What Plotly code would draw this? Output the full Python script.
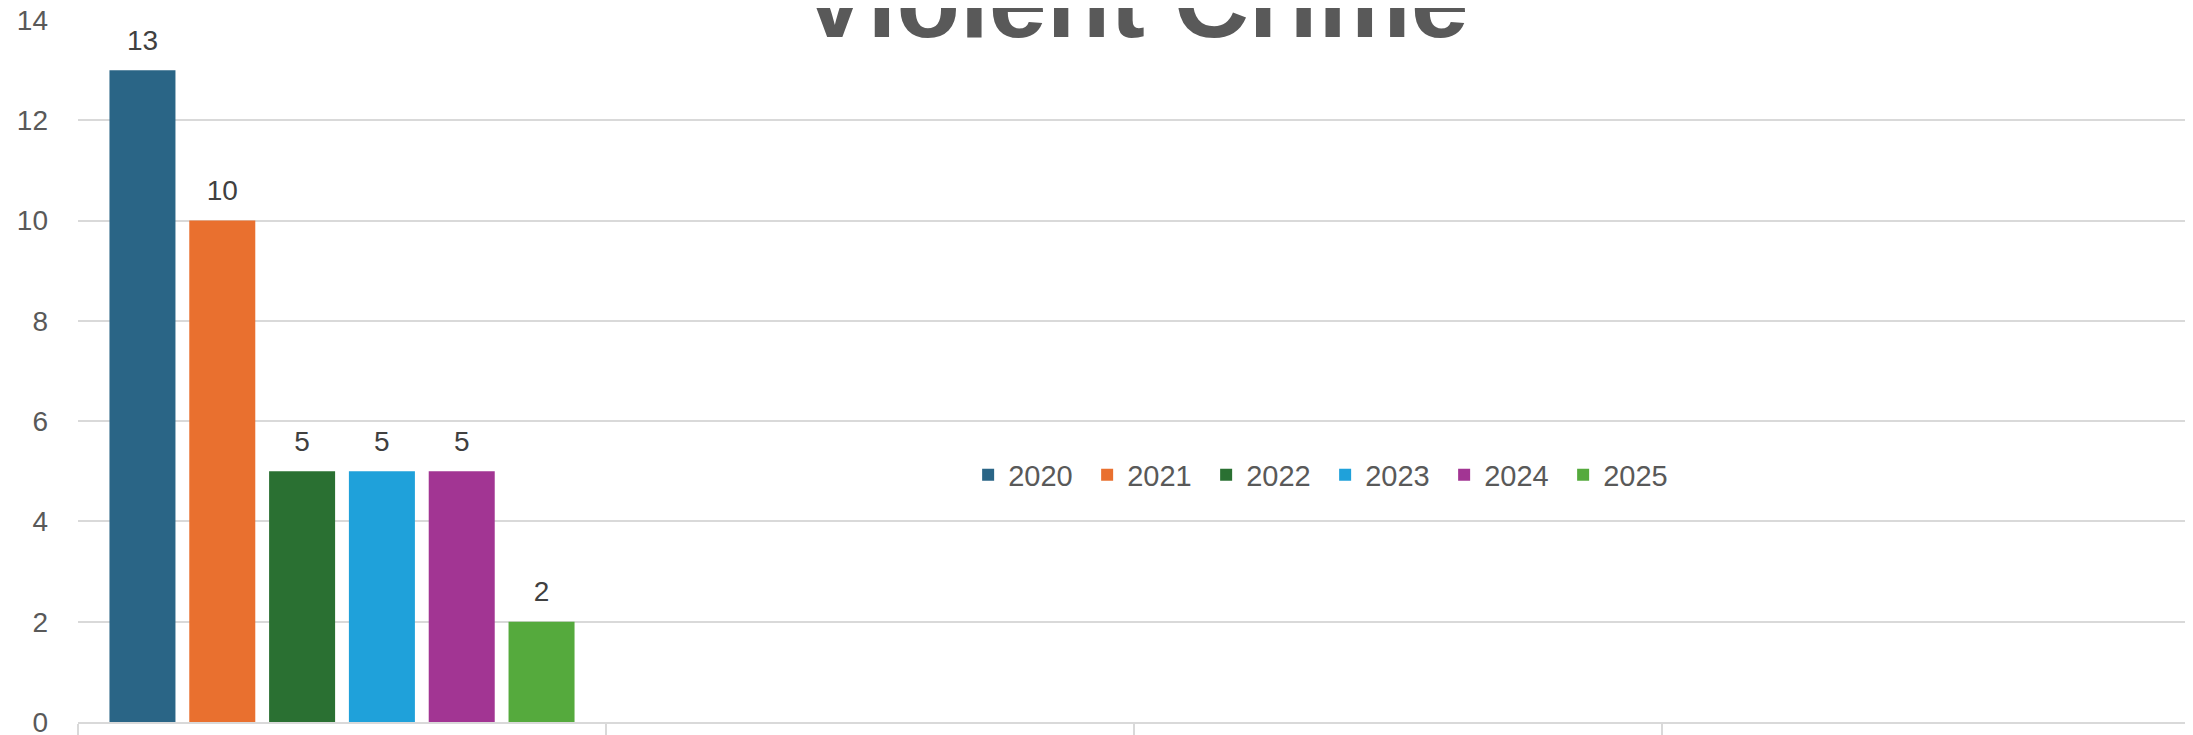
import plotly.graph_objects as go

# ---- data ----
categories = ["Year to Date", "Cat 2", "Cat 3", "Cat 4"]
category_labels = ["Year to Date", "", "", ""]
years = ["2020", "2021", "2022", "2023", "2024", "2025"]
counts = [13, 10, 5, 5, 5, 2]
colors = ["#2a6586", "#e9702f", "#2a7032", "#1fa1da", "#a23593", "#55aa3d"]
title_text = "Violent Crime"

FONT = "Liberation Sans"

fig = go.Figure()
for yr, val, col in zip(years, counts, colors):
    yvals = [val] + [None] * (len(categories) - 1)
    fig.add_trace(go.Bar(
        name=yr,
        x=categories,
        y=yvals,
        marker=dict(color=col, line=dict(width=0)),
        legendgroup=yr,
    ))

# value labels, grouped like the bars
for yr, val in zip(years, counts):
    yvals = [val] + [None] * (len(categories) - 1)
    fig.add_trace(go.Scatter(
        x=categories,
        y=yvals,
        mode="markers+text",
        text=[str(v) if v is not None else "" for v in yvals],
        textposition="top center",
        textfont=dict(family=FONT, size=28, color="#404040"),
        marker=dict(size=20, color="rgba(0,0,0,0)"),
        showlegend=False,
        hoverinfo="skip",
        legendgroup=yr,
        cliponaxis=False,
    ))

fig.update_layout(
    width=2185,
    height=727,
    barmode="group",
    scattermode="group",
    bargap=0.093,
    scattergap=0.093,
    bargroupgap=0.173,
    plot_bgcolor="white",
    paper_bgcolor="white",
    margin=dict(l=70, r=3, t=11.5, b=13, autoexpand=False),
    legend=dict(
        orientation="h",
        x=0.5905, xanchor="center",
        y=0.352, yanchor="middle",
        font=dict(family=FONT, size=29, color="#595959"),
        bgcolor="rgba(0,0,0,0)",
        traceorder="normal",
        entrywidth=74,
    ),
    showlegend=True,
    annotations=[dict(
        text="<b>" + title_text + "</b>",
        font=dict(family=FONT, size=104, color="#595959"),
        x=0.5, xref="paper", xanchor="center",
        y=0.942, yref="paper", yanchor="bottom",
        showarrow=False,
    )],
)

fig.update_xaxes(
    type="category",
    categoryorder="array",
    categoryarray=categories,
    tickvals=categories,
    ticktext=category_labels,
    range=[-0.5, len(categories) - 0.5],
    showline=True,
    linecolor="#d9d9d9",
    linewidth=2,
    ticks="outside",
    tickson="boundaries",
    ticklen=16,
    tickwidth=2,
    tickcolor="#d9d9d9",
    showgrid=False,
    automargin=False,
    ticklabelstandoff=8,
    tickfont=dict(family=FONT, size=27, color="#595959"),
)

fig.update_yaxes(
    range=[0, 14],
    dtick=2,
    showgrid=True,
    gridcolor="#d9d9d9",
    gridwidth=2,
    zeroline=False,
    showline=False,
    automargin=False,
    ticklabelstandoff=29,
    ticklabeloverflow="allow",
    tickfont=dict(family=FONT, size=28, color="#595959"),
)

fig.write_html("out.html")
